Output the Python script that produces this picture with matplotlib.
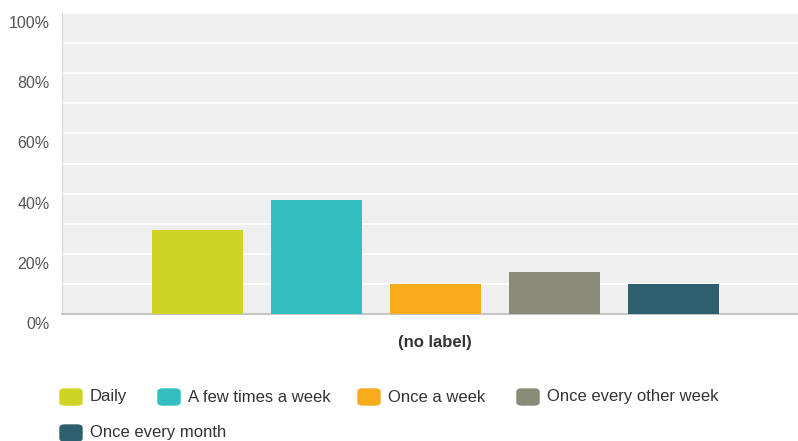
import numpy as np
import matplotlib.pyplot as plt
from matplotlib.patches import FancyBboxPatch
from matplotlib.transforms import ScaledTranslation

plt.rcParams['font.family'] = ['Liberation Sans', 'DejaVu Sans']

categories = ['Daily', 'A few times a week', 'Once a week',
              'Once every other week', 'Once every month']
values = [28, 38, 10, 14, 10]
colors = ['#cfd424', '#33bec0', '#f6ab1b', '#8a8b79', '#2e5f6f']
yticks = [0, 20, 40, 60, 80, 100]

fig = plt.figure(figsize=(7.98, 4.41), dpi=100)
W, H = 798, 441
ax = fig.add_axes([62 / W, 1 - 314 / H, 1 - 62 / W, (314 - 13) / H])
ax.set_facecolor('#efefef')

x = np.arange(len(values))
ax.bar(x, values, width=0.765, color=colors, zorder=3)

ax.set_xlim(-1.14, 5.05)
ax.set_ylim(0, 100)
ax.set_yticks(yticks)
ax.set_yticklabels([f'{t}%' for t in yticks])
ax.set_yticks(np.arange(0, 101, 10), minor=True)
ax.grid(axis='y', which='both', color='white', linewidth=1.2, zorder=1)
ax.set_xticks([])
ax.tick_params(axis='y', which='both', length=0, pad=9,
               labelsize=11.5, labelcolor='#555555')
off = ScaledTranslation(0, -9 / 100, fig.dpi_scale_trans)
for lab in ax.get_yticklabels():
    lab.set_transform(lab.get_transform() + off)

for s in ['top', 'right']:
    ax.spines[s].set_visible(False)
ax.spines['left'].set_color('#d8d8d8')
ax.spines['bottom'].set_color('#bbbbbb')
ax.spines['bottom'].set_linewidth(1.2)

ax.text(2, -9.5, '(no label)', ha='center', va='center', fontsize=12,
        fontweight='bold', color='#333333', transform=ax.transData)

# legend laid out by hand, positions in pixels from the reference
leg_pos = [(60, 397), (158, 397), (358, 397), (517, 397), (60, 433)]
for (px, py), name, c in zip(leg_pos, categories, colors):
    fig.patches.append(FancyBboxPatch(
        (px / W, 1 - (py + 8) / H), 22 / W, 16 / H,
        boxstyle='round,pad=0,rounding_size=0.006',
        transform=fig.transFigure, color=c))
    fig.text((px + 30) / W, 1 - py / H, name, fontsize=12,
             color='#333333', va='center', ha='left')

fig.savefig('out.png', dpi=100)
